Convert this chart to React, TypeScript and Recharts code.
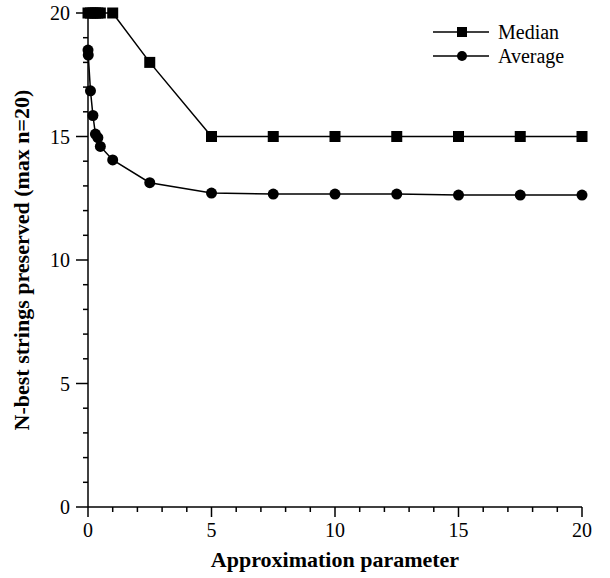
import React from 'react';
import { LineChart, Line, XAxis, YAxis, Legend } from 'recharts';

// approximation parameter values and n-best counts
const medianX = [0, 0.1, 0.2, 0.3, 0.4, 0.5, 1, 2.5, 5, 7.5, 10, 12.5, 15, 17.5, 20];
const medianY = [20, 20, 20, 20, 20, 20, 20, 18, 15, 15, 15, 15, 15, 15, 15];

const averageX = [0, 0.01, 0.1, 0.2, 0.3, 0.4, 0.5, 1, 2.5, 5, 7.5, 10, 12.5, 15, 17.5, 20];
const averageY = [18.5, 18.3, 16.85, 15.85, 15.1, 14.95, 14.6, 14.05, 13.13, 12.71, 12.67, 12.67, 12.67, 12.63, 12.63, 12.63];

const xTicks = Array.from({ length: 21 }, (_, i) => i);
const yTicks = Array.from({ length: 21 }, (_, i) => i);
const majorStep = 5;

const medianData = medianX.map((x, i) => ({ x, y: medianY[i] }));
const averageData = averageX.map((x, i) => ({ x, y: averageY[i] }));

const FONT = '"Liberation Serif", "Times New Roman", serif';

const XTick = (props: any) => {
  const { x, y, payload } = props;
  const major = payload.value % majorStep === 0;
  return (
    <g>
      <line x1={x} y1={y} x2={x} y2={y + (major ? 10 : 5)} stroke="#000" strokeWidth={1.5} />
      {major && (
        <text x={x} y={y + 30} textAnchor="middle" fontSize={20} fontFamily={FONT} fill="#000">
          {payload.value}
        </text>
      )}
    </g>
  );
};

const YTick = (props: any) => {
  const { x, y, payload } = props;
  const major = payload.value % majorStep === 0;
  return (
    <g>
      <line x1={x - (major ? 12 : 5)} y1={y} x2={x} y2={y} stroke="#000" strokeWidth={1.5} />
      {major && (
        <text x={x - 18} y={y + 7} textAnchor="end" fontSize={20} fontFamily={FONT} fill="#000">
          {payload.value}
        </text>
      )}
    </g>
  );
};

const SquareDot = (props: any) => {
  const { cx, cy, index } = props;
  if (cx == null || cy == null) return null;
  return <rect key={`sq-${index}`} x={cx - 5.5} y={cy - 5.5} width={11} height={11} fill="#000" />;
};

const LegendBox = () => (
  <svg width={180} height={52} style={{ display: 'block' }}>
    <line x1={3} y1={12} x2={59} y2={12} stroke="#000" strokeWidth={1.5} />
    <rect x={27} y={7} width={10} height={10} fill="#000" />
    <text x={68} y={19} fontSize={20} fontFamily={FONT} fill="#000">Median</text>
    <line x1={3} y1={36} x2={59} y2={36} stroke="#000" strokeWidth={1.5} />
    <circle cx={32} cy={36} r={5} fill="#000" />
    <text x={68} y={43} fontSize={20} fontFamily={FONT} fill="#000">Average</text>
  </svg>
);

const App = () => {
  return (
    <div style={{ position: 'absolute', left: 0, top: 0, width: 610, height: 578, background: '#fff', fontFamily: FONT }}>
      <LineChart width={610} height={578} margin={{ top: 13, right: 28, left: 0, bottom: 0 }}>
        <XAxis
          dataKey="x"
          type="number"
          domain={[0, 20]}
          ticks={xTicks}
          interval={0}
          tickSize={0}
          tickMargin={0}
          tickLine={false}
          tick={<XTick />}
          height={71}
          axisLine={{ stroke: '#000', strokeWidth: 1.5 }}
          allowDuplicatedCategory={false}
          label={{
            content: ({ viewBox }: any) => (
              <text
                x={viewBox.x + viewBox.width / 2}
                y={viewBox.y + 60}
                textAnchor="middle"
                fontSize={22}
                fontWeight="bold"
                fontFamily={FONT}
                fill="#000"
              >
                Approximation parameter
              </text>
            ),
          }}
        />
        <YAxis
          dataKey="y"
          type="number"
          domain={[0, 20]}
          ticks={yTicks}
          interval={0}
          tickSize={0}
          tickMargin={0}
          tickLine={false}
          tick={<YTick />}
          width={88}
          axisLine={{ stroke: '#000', strokeWidth: 1.5 }}
          label={{
            content: ({ viewBox }: any) => {
              const cx = 29;
              const cy = viewBox.y + viewBox.height / 2;
              return (
                <text
                  x={cx}
                  y={cy}
                  transform={`rotate(-90, ${cx}, ${cy})`}
                  textAnchor="middle"
                  fontSize={22}
                  fontWeight="bold"
                  fontFamily={FONT}
                  fill="#000"
                >
                  N-best strings preserved (max n=20)
                </text>
              );
            },
          }}
        />
        <Legend
          layout="vertical"
          align="center"
          verticalAlign="middle"
          content={() => <LegendBox />}
          wrapperStyle={{ position: 'absolute', left: 430, top: 20, width: 180 }}
        />
        <Line
          data={medianData}
          dataKey="y"
          name="Median"
          stroke="#000"
          strokeWidth={1.5}
          dot={<SquareDot />}
          activeDot={false}
          isAnimationActive={false}
        />
        <Line
          data={averageData}
          dataKey="y"
          name="Average"
          stroke="#000"
          strokeWidth={1.5}
          dot={{ r: 5.5, fill: '#000', stroke: '#000', strokeWidth: 0 }}
          activeDot={false}
          isAnimationActive={false}
        />
      </LineChart>
    </div>
  );
};

export default App;
